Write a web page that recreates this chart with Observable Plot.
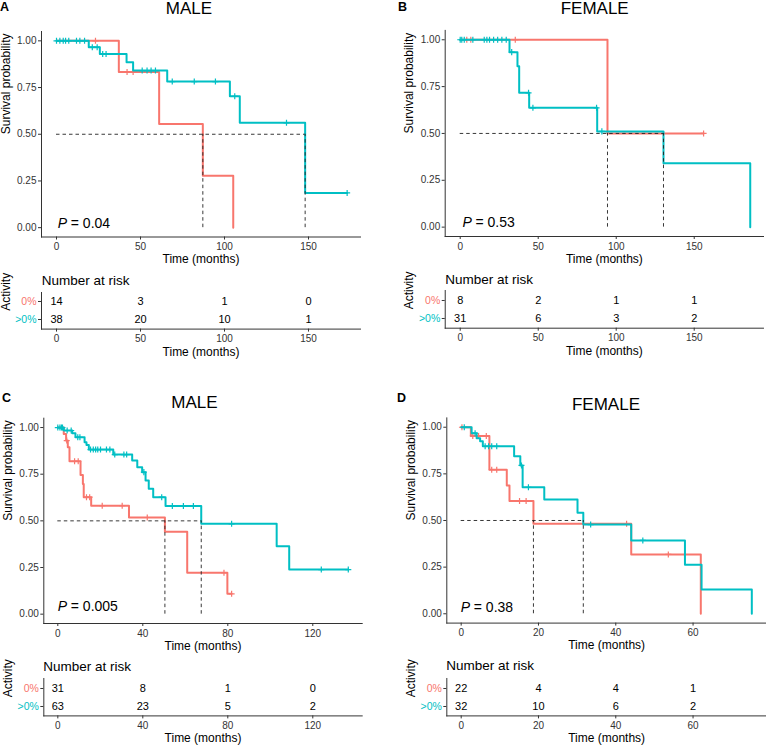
<!DOCTYPE html>
<html>
<head>
<meta charset="utf-8">
<script src="https://cdn.jsdelivr.net/npm/d3@7"></script>
<script src="https://cdn.jsdelivr.net/npm/@observablehq/plot@0.6"></script>
<style>
  html, body { margin: 0; padding: 0; background: #fff; }
  #root { position: relative; width: 766px; height: 745px; overflow: hidden; font-family: "Liberation Sans", Arial, Helvetica, sans-serif; }
  .abs { position: absolute; white-space: nowrap; line-height: 0.9; color: #000; }
  .abs svg { display: block; }
</style>
</head>
<body>
<div id="root"></div>
<script>
// ---------------- DATA ----------------
const groups = ["0%", ">0%"];
const RED = "#F8766D", CYAN = "#00BFC4";

// Panel A (MALE)
const A_low_steps  = [[0,1],[37.1,0.833],[61.1,0.555],[87.1,0.278],[105.2,0]];
const A_low_cens   = [23.2,42,45.6];
const A_high_steps = [[0,1],[19.2,0.966],[25.8,0.93],[41.7,0.886],[45.6,0.841],[65.9,0.782],[103.2,0.703],[109.1,0.561],[148,0.186],[173,0.186]];
const A_high_cens  = [0,2,4,5.4,7.3,11.9,13.9,16.7,21.3,24.2,27.5,29.5,51,53.9,56.3,58.9,68.9,82,94.6,106.1,136.9,173];
const A_medians    = [87.1,148];
const A_p          = "0.04";
const A_risk_times = [0,50,100,150];
const A_risk_low   = [14,3,1,0];
const A_risk_high  = [38,20,10,1];

// Panel B (FEMALE)
const B_low_steps  = [[0,1],[94.4,0.5],[156,0.5]];
const B_low_cens   = [4.2,6.8,35.3,156];
const B_high_steps = [[0,1],[31.6,0.934],[36.7,0.859],[37.8,0.717],[44.2,0.637],[87.8,0.511],[130.3,0.341],[185.9,0]];
const B_high_cens  = [0,1,2.6,8.1,15.4,17.1,18.8,21.4,24,26.7,29.5,33,43.8,46.6,87.4,90.8];
const B_medians    = [94.4,130.3];
const B_p          = "0.53";
const B_risk_times = [0,50,100,150];
const B_risk_low   = [8,2,1,1];
const B_risk_high  = [31,6,3,2];

// Panel C (MALE)
const C_low_steps  = [[0,1],[2.8,0.966],[3.9,0.93],[4.7,0.894],[5.5,0.819],[10.7,0.746],[11.8,0.698],[12.2,0.627],[15.7,0.581],[33.5,0.518],[50.4,0.441],[60.9,0.222],[79.8,0.109],[81.8,0.109]];
const C_low_cens   = [4.2,7.9,9.6,13.5,15,20.9,30.3,42.1,78.2,81.8];
const C_high_steps = [[0,1],[2.8,0.984],[6.8,0.969],[8.3,0.948],[12.6,0.921],[13.5,0.907],[14.6,0.882],[26.1,0.855],[35,0.823],[37.4,0.787],[39.7,0.761],[41.3,0.716],[42.8,0.672],[44.9,0.627],[50.7,0.579],[67.5,0.484],[103,0.364],[108.9,0.239],[136.7,0.239]];
const C_high_cens  = [0,1,1.7,2.2,4.4,6.3,9.4,10.4,15.4,16.7,17.8,18.8,20.1,22.9,24.5,26.8,31.1,32.4,40.5,48.9,53.9,59.1,63.8,81.8,124,136.7];
const C_medians    = [50.4,67.5];
const C_p          = "0.005";
const C_risk_times = [0,40,80,120];
const C_risk_low   = [31,8,1,0];
const C_risk_high  = [63,23,5,2];

// Panel D (FEMALE)
const D_low_steps  = [[0,1],[2.5,0.953],[7.3,0.772],[11.8,0.688],[12.5,0.604],[18.7,0.482],[44,0.318],[62,0]];
const D_low_cens   = [0.2,3,4.5,6.5,7.9,9.2,15.1,16.8,42.8,53.6];
const D_high_steps = [[0,1],[2.7,0.968],[4,0.941],[4.9,0.925],[5.6,0.898],[13.7,0.845],[15.3,0.795],[15.9,0.678],[21.5,0.612],[30.1,0.541],[31.6,0.478],[44,0.393],[57.9,0.263],[62.2,0.13],[75.2,0]];
const D_high_cens  = [0.8,3.6,6.2,7.1,7.9,9.2,15.6,17.4,33.5,47];
const D_medians    = [18.7,31.6];
const D_p          = "0.38";
const D_risk_times = [0,20,40,60];
const D_risk_low   = [22,4,4,1];
const D_risk_high  = [32,10,6,2];

const yTicks = [0,0.25,0.5,0.75,1];

// ---------------- LAYOUT ----------------
const FONT = "'Liberation Sans', Arial, Helvetica, sans-serif";
const AXIS = "#333";
const root = document.getElementById("root");

const panels = [
  {letter:"A", title:"MALE", left:0, top:0, mL:41, mR:23, xDomain:[-8.93,180.95],
   kmTop:31, kmBottom:236.5, riskTop:291.7, riskBottom:328.3,
   titleX:189, titleBase:14.5, letterX:0, letterBase:11.7, narX:41.7, narBase:285.7, pDx:16.3, pDy:-13.2,
   low:A_low_steps, lowC:A_low_cens, high:A_high_steps, highC:A_high_cens, med:A_medians, p:A_p,
   rt:A_risk_times, rl:A_risk_low, rh:A_risk_high},
  {letter:"B", title:"FEMALE", left:383, top:0, mL:61.7, mR:3, xDomain:[-9.62,194.4],
   kmTop:29.9, kmBottom:236, riskTop:290, riskBottom:327.7,
   titleX:594.7, titleBase:14.3, letterX:398, letterBase:11.7, narX:445.3, narBase:284.3, pDx:17.3, pDy:-13.7,
   low:B_low_steps, lowC:B_low_cens, high:B_high_steps, highC:B_high_cens, med:B_medians, p:B_p,
   rt:B_risk_times, rl:B_risk_low, rh:B_risk_high},
  {letter:"C", title:"MALE", left:0, top:380, mL:43.3, mR:21.3, xDomain:[-6.59,143.25],
   kmTop:417.7, kmBottom:623, riskTop:678.3, riskBottom:715.7,
   titleX:194.5, titleBase:408.3, letterX:2, letterBase:403.3, narX:43.3, narBase:671.7, pDx:14, pDy:-16.7,
   low:C_low_steps, lowC:C_low_cens, high:C_high_steps, highC:C_high_cens, med:C_medians, p:C_p,
   rt:C_risk_times, rl:C_risk_low, rh:C_risk_high},
  {letter:"D", title:"FEMALE", left:383, top:380, mL:63.3, mR:0, xDomain:[-3.72,79.0],
   kmTop:417.4, kmBottom:622.6, riskTop:678.3, riskBottom:715.7,
   titleX:606, titleBase:410.7, letterX:397, letterBase:403.3, narX:446.3, narBase:671, pDx:14, pDy:-15.6,
   low:D_low_steps, lowC:D_low_cens, high:D_high_steps, highC:D_high_cens, med:D_medians, p:D_p,
   rt:D_risk_times, rl:D_risk_low, rh:D_risk_high}
];

function place(node, left, top) {
  const w = document.createElement("div");
  w.className = "abs";
  w.style.left = left + "px";
  w.style.top = top + "px";
  w.appendChild(node);
  root.appendChild(w);
  return w;
}
// positions an HTML text so that its baseline sits at `base` (line-height 0.9, Liberation Sans metrics)
function label(text, x, base, fs, opts = {}) {
  const d = document.createElement("div");
  d.className = "abs";
  d.textContent = text;
  d.style.fontSize = fs + "px";
  d.style.left = x + "px";
  d.style.top = (base - 0.7965 * fs) + "px";
  if (opts.bold) d.style.fontWeight = "bold";
  if (opts.center) d.style.transform = "translateX(-50%)";
  root.appendChild(d);
}

const toPts = steps => steps.map(([t, s]) => ({t, s}));
function survAt(steps, t) {
  let s = steps[0][1];
  for (const [ti, si] of steps) if (ti <= t) s = si;
  return s;
}
const censPts = (steps, times) => times.map(t => ({t, s: survAt(steps, t)}));

const WIDTH = 383;

for (const P of panels) {
  // ---- Kaplan-Meier plot ----
  const kmHeight = P.kmBottom - P.top + 32;
  const maxMed = d3.max(P.med);
  const km = Plot.plot({
    width: WIDTH,
    height: kmHeight,
    marginLeft: P.mL,
    marginRight: P.mR,
    marginTop: P.kmTop - P.top,
    marginBottom: 32,
    style: {fontFamily: FONT, fontSize: "10px", color: AXIS, background: "transparent", overflow: "visible"},
    x: {domain: P.xDomain},
    y: {domain: [-0.05, 1.05]},
    marks: [
      Plot.frame({anchor: "left", stroke: AXIS, strokeWidth: 1}),
      Plot.frame({anchor: "bottom", stroke: AXIS, strokeWidth: 1}),
      Plot.axisY(yTicks, {tickSize: 3, tickPadding: 2, tickFormat: d3.format(".2f"), label: null, fill: "#333"}),
      Plot.axisX(P.rt, {tickSize: 3, tickPadding: 3, label: null, fill: "#333"}),
      Plot.text(["Survival probability"], {frameAnchor: "left", rotate: -90, dx: -40.5, lineAnchor: "top", fontSize: 12, fill: "#000"}),
      Plot.text(["Time (months)"], {frameAnchor: "bottom", dy: 26.3, lineAnchor: "bottom", fontSize: 12, fill: "#000"}),
      Plot.line(toPts(P.low), {x: "t", y: "s", curve: "step-after", stroke: RED, strokeWidth: 2}),
      Plot.dot(censPts(P.low, P.lowC), {x: "t", y: "s", symbol: "plus", r: 2.1, stroke: RED, strokeWidth: 1.2, fill: "none"}),
      Plot.line(toPts(P.high), {x: "t", y: "s", curve: "step-after", stroke: CYAN, strokeWidth: 2}),
      Plot.dot(censPts(P.high, P.highC), {x: "t", y: "s", symbol: "plus", r: 2.1, stroke: CYAN, strokeWidth: 1.2, fill: "none"}),
      Plot.ruleY([{y: 0.5, x1: 0, x2: maxMed}], {y: "y", x1: "x1", x2: "x2", stroke: "#222", strokeWidth: 0.9, strokeDasharray: "3.5,3"}),
      Plot.ruleX(P.med, {x: d => d, y1: 0, y2: 0.5, stroke: "#222", strokeWidth: 0.9, strokeDasharray: "3.5,3"}),
      Plot.text(["P"], {frameAnchor: "bottom-left", dx: P.pDx, dy: P.pDy, lineAnchor: "middle", textAnchor: "start", fontSize: 14, fontStyle: "italic", fill: "#000"}),
      Plot.text(["= " + P.p], {frameAnchor: "bottom-left", dx: P.pDx + 13, dy: P.pDy, lineAnchor: "middle", textAnchor: "start", fontSize: 14, fill: "#000"})
    ]
  });
  place(km, P.left, P.top);

  // ---- Risk table ----
  const rTop = P.riskTop - 12;
  const rHeight = P.riskBottom - rTop + 32;
  const rowsLow = P.rt.map((t, i) => ({t, g: groups[0], n: P.rl[i]}));
  const rowsHigh = P.rt.map((t, i) => ({t, g: groups[1], n: P.rh[i]}));
  const risk = Plot.plot({
    width: WIDTH,
    height: rHeight,
    marginLeft: P.mL,
    marginRight: P.mR,
    marginTop: 12,
    marginBottom: 32,
    style: {fontFamily: FONT, fontSize: "10px", color: AXIS, background: "transparent", overflow: "visible"},
    x: {domain: P.xDomain},
    y: {type: "band", domain: groups, padding: 0},
    marks: [
      Plot.frame({anchor: "left", stroke: AXIS, strokeWidth: 1}),
      Plot.frame({anchor: "bottom", stroke: AXIS, strokeWidth: 1}),
      Plot.axisY([groups[0]], {tickSize: 3, tickPadding: 2, label: null, fill: RED, fontSize: 10.5}),
      Plot.axisY([groups[1]], {tickSize: 3, tickPadding: 2, label: null, fill: CYAN, fontSize: 10.5}),
      Plot.axisX(P.rt, {tickSize: 3, tickPadding: 3, label: null, fill: "#333"}),
      Plot.text(["Activity"], {frameAnchor: "left", rotate: -90, dx: -40.5, lineAnchor: "top", fontSize: 12, fill: "#000"}),
      Plot.text(["Time (months)"], {frameAnchor: "bottom", dy: 26.5, lineAnchor: "bottom", fontSize: 12, fill: "#000"}),
      Plot.text(rowsLow, {x: "t", y: "g", text: "n", fontSize: 11, fill: "#000"}),
      Plot.text(rowsHigh, {x: "t", y: "g", text: "n", fontSize: 11, fill: "#000"})
    ]
  });
  place(risk, P.left, rTop);

  // ---- HTML text ----
  label(P.title, P.titleX, P.titleBase, 17, {center: true});
  label(P.letter, P.letterX, P.letterBase, 12.5, {bold: true});
  label("Number at risk", P.narX, P.narBase, 13.5);
}
</script>
</body>
</html>
